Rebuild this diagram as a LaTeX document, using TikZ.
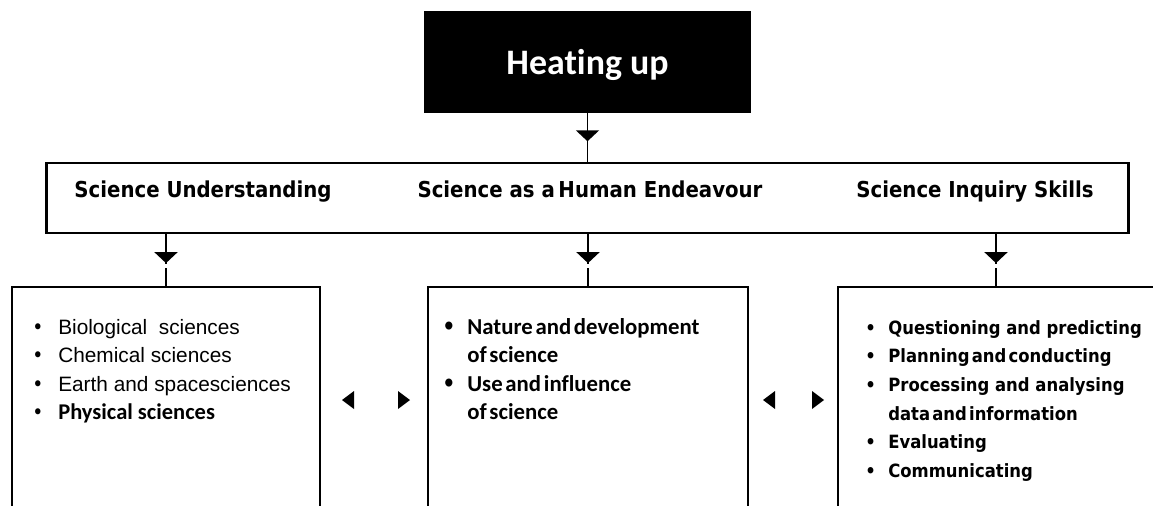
\documentclass[tikz,border=0pt]{standalone}
\usepackage{fontspec}
\setmainfont{DejaVu Sans Condensed}
\newfontfamily\arialf{Liberation Sans}
\newfontfamily\calib[Ligatures=NoCommon]{Carlito}
\newfontfamily\tahom{DejaVu Sans Condensed}
\usetikzlibrary{arrows.meta,decorations.markings}

\newcommand{\tight}[1]{{\spaceskip=0.12em\relax #1}}
\newcommand{\dotmark}[1]{\makebox[#1][l]{\tahom\textbullet}}

\tikzset{
  titlebox/.style={fill=black, text=white, minimum width=8.175cm, minimum height=2.55cm,
    inner sep=0pt, text depth=0pt, font=\calib\bfseries\fontsize{25.5}{30}\selectfont},
  rowbox/.style={draw, line width=2pt, minimum width=27.025cm, minimum height=1.75cm},
  heading/.style={anchor=base, inner sep=0pt, font=\tahom\bfseries\fontsize{15.6}{18}\selectfont},
  listbox/.style={draw, line width=1.8pt, minimum height=7.825cm},
  listtext/.style={anchor=base west, inner sep=0pt},
  flow/.style={line width=1.4pt, postaction={decorate, decoration={markings,
    mark=at position #1 with {\arrow{Triangle[width=0.575cm,length=0.275cm]}}}}},
  flowgap/.style={flow=#1, postaction={decorate, decoration={markings,
    mark=at position #1 with {\fill[white] (0.03cm,-0.06cm) rectangle (0.13cm,0.06cm);}}}}
}

\begin{document}
\begin{tikzpicture}[x=0.025cm,y=-0.025cm]
\useasboundingbox (0,0) rectangle (1153,506);
\clip (0,0) rectangle (1153,506);
% top of the chart
\node[titlebox] (title) at (587.5,62) {Heat\kern0pt ing up};
\node[rowbox] (row) at (587.5,198) {};
\node[heading] (su) at (203,197) {Science Understanding};
\node[heading] (he) at (590,197) {Science as a\,Human Endeavour};
\node[heading] (si) at (975,197) {Science Inquiry Skills};

% the three lower boxes
\node[listbox, minimum width=7.7cm] (subox) at (166,443.5) {};
\node[listbox, minimum width=8cm] (hebox) at (588,443.5) {};
\node[listbox, minimum width=7.9cm] (sibox) at (996,443.5) {};

% arrows
\draw[flow=0.58] (title.south) -- (row.north);
\draw[flowgap=0.56] (row.south -| subox.north) -- (subox.north);
\draw[flowgap=0.56] (row.south -| hebox.north) -- (hebox.north);
\draw[flowgap=0.56] (row.south -| sibox.north) -- (sibox.north);

% left and right heads between the boxes
\foreach \a/\b in {342/354, 763/775}
  \fill (\a,400) -- (\b,391) -- (\b,409) -- cycle;
\foreach \a/\b in {410/398, 824/812}
  \fill (\a,400) -- (\b,391) -- (\b,409) -- cycle;

% lists
\node[listtext, font=\arialf\fontsize{14.8}{20.3}\selectfont] (sulist) at (32,334) {%
  \begin{tabular}[t]{@{}l@{}l@{}}
  \dotmark{18.5pt} & Biological\ \ sciences \\
  \dotmark{18.5pt} & Chemical sciences \\
  \dotmark{18.5pt} & Earth and spacesciences \\
  \dotmark{18.5pt} & {\calib\bfseries\fontsize{16}{20.3}\selectfont Physical sciences} \\
  \end{tabular}};
\node[listtext, font=\calib\bfseries\fontsize{16.2}{20.3}\selectfont] (helist) at (442,334) {%
  \begin{tabular}[t]{@{}l@{}l@{}}
  \dotmark{17.8pt} & \tight{Nature and development} \\
   & \tight{of science} \\
  \dotmark{17.8pt} & \tight{Use and influence} \\
   & \tight{of science} \\
  \end{tabular}};
\node[listtext, font=\tahom\bfseries\fontsize{13}{20.4}\selectfont] (silist) at (865,334) {%
  \begin{tabular}[t]{@{}l@{}l@{}}
  \dotmark{16.4pt} & Questioning and predicting \\
  \dotmark{16.4pt} & \tight{Planning and conducting} \\
  \dotmark{16.4pt} & Processing and analysing \\
   & \tight{data and information} \\
  \dotmark{16.4pt} & Evaluating \\
  \dotmark{16.4pt} & Communicating \\
  \end{tabular}};
\end{tikzpicture}
\end{document}
